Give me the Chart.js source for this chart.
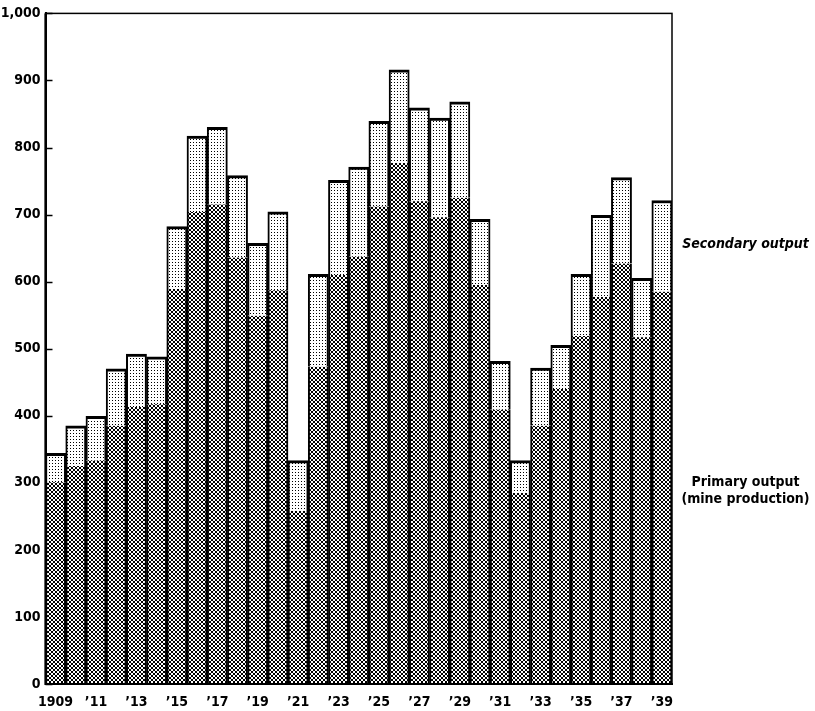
<!DOCTYPE html>
<html>
<head>
<meta charset="utf-8">
<script src="https://cdn.jsdelivr.net/npm/chart.js@4.4.1/dist/chart.umd.min.js"></script>
<style>
  html, body { margin: 0; padding: 0; background: #fff; }
  #wrap { width: 815px; height: 711px; position: relative; }
</style>
</head>
<body>
<div id="wrap"><canvas id="copperChart"></canvas></div>
<script>
/* ============================================================
   DATOS
============================================================ */

const years = [
    "1909","1910","1911","1912","1913","1914","1915","1916","1917","1918",
    "1919","1920","1921","1922","1923","1924","1925","1926","1927","1928",
    "1929","1930","1931","1932","1933","1934","1935","1936","1937","1938","1939"
];

const xTickLabels = [
    "1909","","\u201911","","\u201913","","\u201915","","\u201917","",
    "\u201919","","\u201921","","\u201923","","\u201925","","\u201927","",
    "\u201929","","\u201931","","\u201933","","\u201935","","\u201937","","\u201939"
];

// primary output (mine production)
const primaryOutput = [
    301, 325, 333, 385, 413, 417, 589, 704, 715, 636,
    549, 587, 258, 473, 610, 637, 712, 777, 720, 696,
    725, 595, 409, 285, 385, 440, 519, 577, 627, 517, 585
];

// secondary output (stacked on top)
const secondaryOutput = [
    43, 60, 66, 85, 79, 71, 93, 113, 115, 122,
    108, 117, 75, 138, 141, 134, 127, 139, 139, 148,
    143, 98, 72, 48, 86, 65, 92, 122, 128, 88, 136
];

const yMin = 0, yMax = 1000, yStep = 100;

const sideLabels = {
    secondary: ["Secondary output"],
    primary: ["Primary output", "(mine production)"]
};

/* ============================================================
   TRAMAS
============================================================ */

function makePattern(size, isDark, ink) {
    const tile = document.createElement("canvas");
    tile.width = size; tile.height = size;
    const t = tile.getContext("2d");
    t.fillStyle = "#fff";
    t.fillRect(0, 0, size, size);
    t.fillStyle = ink;
    for (let y = 0; y < size; y++) {
        for (let x = 0; x < size; x++) {
            if (isDark(x, y)) t.fillRect(x, y, 1, 1);
        }
    }
    return t.createPattern(tile, "repeat");
}

const crossHatch = makePattern(4, (x, y) => x === y || x + y === 3, "#000");
const dots = makePattern(3, (x, y) => x === 1 && y === 1, "#000");

/* ============================================================
   PLUGINS: marco, ticks interiores y etiquetas laterales
============================================================ */

const framePlugin = {
    id: "frame",
    beforeDatasetsDraw(chart) {
        const { ctx, chartArea: a, scales } = chart;
        ctx.save();
        ctx.strokeStyle = "#000";
        ctx.lineWidth = 1.5;
        for (let v = yMin; v <= yMax; v += yStep) {
            const y = Math.round(scales.y.getPixelForValue(v)) + 0.5;
            ctx.beginPath();
            ctx.moveTo(a.left, y);
            ctx.lineTo(a.left + 7, y);
            ctx.stroke();
        }
        ctx.restore();
    },
    afterDatasetsDraw(chart) {
        const { ctx, chartArea: a, scales } = chart;
        ctx.save();
        ctx.strokeStyle = "#000";
        ctx.lineWidth = 1.5;
        ctx.strokeRect(a.left, a.top, a.right - a.left, a.bottom - a.top);
        ctx.lineWidth = 2;
        ctx.beginPath();
        ctx.moveTo(a.left, a.top);
        ctx.lineTo(a.left, a.bottom);
        ctx.lineTo(a.right, a.bottom);
        ctx.stroke();

        ctx.fillStyle = "#000";
        ctx.textAlign = "center";
        ctx.textBaseline = "middle";
        const cx = a.right + (chart.width - a.right) / 2 + 2;
        ctx.font = "italic bold 14px 'DejaVu Sans Condensed', 'DejaVu Sans', sans-serif";
        ctx.fillText(sideLabels.secondary[0], cx, scales.y.getPixelForValue(655));
        ctx.font = "bold 14px 'DejaVu Sans Condensed', 'DejaVu Sans', sans-serif";
        ctx.fillText(sideLabels.primary[0], cx, scales.y.getPixelForValue(300));
        ctx.fillText(sideLabels.primary[1], cx, scales.y.getPixelForValue(275));
        ctx.restore();
    }
};

/* ============================================================
   GRÁFICO
============================================================ */

Chart.defaults.font.family = "'DejaVu Sans Condensed', 'DejaVu Sans', sans-serif";
Chart.defaults.font.size = 14;
Chart.defaults.font.weight = "bold";
Chart.defaults.color = "#000";

new Chart(document.getElementById("copperChart"), {
    type: "bar",
    data: {
        labels: years,
        datasets: [
            {
                label: "Primary output (mine production)",
                data: primaryOutput,
                backgroundColor: crossHatch,
                borderColor: "#000",
                borderWidth: { left: 2, right: 2, top: 0, bottom: 0 },
                borderSkipped: false
            },
            {
                label: "Secondary output",
                data: secondaryOutput,
                backgroundColor: dots,
                borderColor: "#000",
                borderWidth: { left: 2, right: 2, top: 3, bottom: 0 },
                borderSkipped: false
            }
        ]
    },
    options: {
        responsive: true,
        maintainAspectRatio: false,
        animation: false,
        barPercentage: 1,
        categoryPercentage: 1,
        layout: { padding: { left: 0, right: 143, top: 11, bottom: 0 } },
        plugins: {
            legend: { display: false },
            tooltip: { enabled: false }
        },
        scales: {
            x: {
                stacked: true,
                grid: { display: false },
                border: { display: true, color: "#000", width: 2 },
                ticks: {
                    autoSkip: false,
                    maxRotation: 0,
                    padding: 2,
                    callback: (v, i) => xTickLabels[i]
                },
                afterFit: s => { s.height = 27; }
            },
            y: {
                stacked: true,
                min: yMin,
                max: yMax,
                grid: { display: false, drawTicks: false },
                border: { display: true, color: "#000", width: 2 },
                ticks: {
                    stepSize: yStep,
                    padding: 5,
                    callback: v => v.toLocaleString("en-US")
                },
                afterFit: s => { s.width = 45.5; }
            }
        }
    },
    plugins: [framePlugin]
});
</script>
</body>
</html>
